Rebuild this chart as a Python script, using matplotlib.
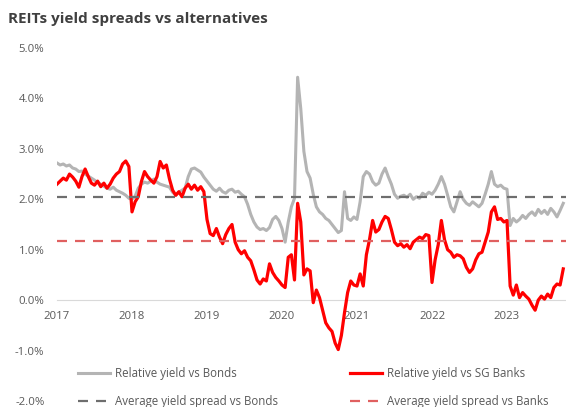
import matplotlib
matplotlib.use("Agg")
import matplotlib.pyplot as plt
import numpy as np

# semi-monthly observations, Jan 2017 -> Oct 2023
start_year = 2017.0
step = 1 / 24

bonds = [
    2.72, 2.68, 2.70, 2.66, 2.68, 2.62, 2.60, 2.55, 2.56, 2.50, 2.46, 2.42,
    2.38, 2.33, 2.30, 2.26, 2.22, 2.20, 2.24, 2.18, 2.15, 2.12, 2.08, 2.02,
    2.00, 2.06, 2.22, 2.30, 2.34, 2.32, 2.36, 2.40, 2.34, 2.30, 2.28, 2.26,
    2.24, 2.14, 2.08, 2.14, 2.18, 2.22, 2.45, 2.60, 2.62, 2.58, 2.54, 2.44,
    2.36, 2.28, 2.20, 2.16, 2.22, 2.15, 2.12, 2.18, 2.20, 2.14, 2.16, 2.10,
    2.05, 1.90, 1.70, 1.55, 1.45, 1.40, 1.42, 1.38, 1.44, 1.60, 1.66, 1.58,
    1.42, 1.15, 1.55, 1.85, 2.02, 4.42, 3.80, 2.95, 2.55, 2.42, 2.10, 1.85,
    1.75, 1.70, 1.62, 1.58, 1.50, 1.42, 1.34, 1.38, 2.15, 1.62, 1.58, 1.65,
    1.60, 1.95, 2.45, 2.55, 2.50, 2.35, 2.28, 2.32, 2.50, 2.62, 2.45, 2.30,
    2.10, 2.02, 2.06, 2.08, 2.04, 2.10, 2.00, 2.05, 2.02, 2.12, 2.08, 2.14,
    2.10, 2.18, 2.30, 2.45, 2.30, 2.08, 1.85, 1.75, 1.95, 2.15, 2.00, 1.92,
    1.88, 1.95, 1.90, 1.85, 1.92, 2.10, 2.30, 2.55, 2.30, 2.25, 2.28, 2.22,
    2.20, 1.48, 1.62, 1.55, 1.60, 1.68, 1.62, 1.70, 1.75, 1.68, 1.80, 1.72,
    1.78, 1.70, 1.82, 1.75, 1.65, 1.78, 1.92,
]

banks = [
    2.30, 2.36, 2.42, 2.38, 2.50, 2.44, 2.36, 2.24, 2.45, 2.60, 2.45, 2.32,
    2.28, 2.36, 2.25, 2.32, 2.22, 2.30, 2.42, 2.50, 2.55, 2.70, 2.76, 2.65,
    1.75, 1.95, 2.05, 2.35, 2.55, 2.45, 2.38, 2.32, 2.45, 2.75, 2.62, 2.68,
    2.40, 2.18, 2.08, 2.15, 2.05, 2.22, 2.30, 2.20, 2.28, 2.18, 2.25, 2.15,
    1.60, 1.32, 1.28, 1.42, 1.25, 1.12, 1.30, 1.42, 1.50, 1.15, 1.00, 0.92,
    0.98, 0.85, 0.78, 0.60, 0.40, 0.32, 0.42, 0.38, 0.72, 0.55, 0.45, 0.38,
    0.30, 0.25, 0.85, 0.90, 0.40, 1.92, 1.55, 0.50, 0.62, 0.58, -0.05, 0.20,
    0.05, -0.20, -0.45, -0.55, -0.62, -0.85, -0.98, -0.70, -0.25, 0.15, 0.38, 0.30,
    0.28, 0.52, 0.28, 0.90, 1.20, 1.58, 1.35, 1.40, 1.55, 1.66, 1.62, 1.40,
    1.15, 1.08, 1.12, 1.05, 1.10, 1.02, 1.15, 1.20, 1.25, 1.22, 1.30, 1.28,
    0.35, 0.80, 1.10, 1.58, 1.20, 1.00, 0.95, 0.85, 0.90, 0.88, 0.82, 0.65,
    0.55, 0.62, 0.80, 0.92, 0.95, 1.15, 1.35, 1.75, 1.85, 1.60, 1.62, 1.55,
    1.58, 0.28, 0.10, 0.30, 0.05, 0.15, 0.08, 0.02, -0.10, -0.20, 0.00, 0.08,
    0.02, 0.12, 0.05, 0.25, 0.32, 0.30, 0.62,
]

avg_bonds = 2.04
avg_banks = 1.18
years = [2017, 2018, 2019, 2020, 2021, 2022, 2023]

W, H = 566, 407
fig = plt.figure(figsize=(W / 100, H / 100), dpi=100)
ax = fig.add_axes([57 / W, 6 / H, (W - 57) / W, 353 / H])

t = start_year + np.arange(len(bonds)) * step

ax.plot(t, bonds, color="#b4b4b4", lw=2.2, label="Relative yield vs Bonds",
        zorder=2, solid_joinstyle="round")
ax.plot(t, banks, color="#ff0000", lw=2.3, label="Relative yield vs SG Banks",
        zorder=3, solid_joinstyle="round")
ax.axhline(avg_bonds, color="#6e6e6e", lw=1.6, ls=(0, (4.5, 3.6)),
           label="Average yield spread vs Bonds", zorder=4)
ax.axhline(avg_banks, color="#e06060", lw=1.6, ls=(0, (4.5, 3.6)),
           label="Average yield spread vs Banks", zorder=4)

ax.set_xlim(2017, 2017 + (W - 57) / 75)
ax.set_ylim(-2, 5)

for s in ["top", "right", "left"]:
    ax.spines[s].set_visible(False)
ax.spines["bottom"].set_position(("data", 0))
ax.spines["bottom"].set_color("#d9d9d9")
ax.spines["bottom"].set_zorder(1)

tick_font = dict(family="Open Sans", size=8.2, color="#595959")
ax.set_xticks(years)
ax.set_xticklabels([str(y) for y in years], **tick_font)
ax.set_yticks(np.arange(-2, 5.01, 1))
ax.set_yticklabels([f"{v:.1f}%" for v in np.arange(-2, 5.01, 1)], **tick_font)
ax.tick_params(axis="x", length=0, pad=8)
ax.tick_params(axis="y", length=0, pad=9)

fig.text(8 / W, 1 - 19 / H, "REITs yield spreads vs alternatives", family="Open Sans",
         weight="bold", size=11, color="#404040", va="center", ha="left")

h, l = ax.get_legend_handles_labels()
order = [0, 2, 1, 3]
ax.legend([h[i] for i in order], [l[i] for i in order], ncol=2, frameon=False,
          loc="upper left", bbox_to_anchor=(78 / W, 1 - 367 / H),
          bbox_transform=fig.transFigure, borderpad=0, borderaxespad=0,
          handlelength=2.8, handletextpad=0.45, columnspacing=6.2,
          labelspacing=1.3, prop=dict(family="Open Sans", size=8.3),
          labelcolor="#595959")

fig.savefig("out.png", dpi=100)
